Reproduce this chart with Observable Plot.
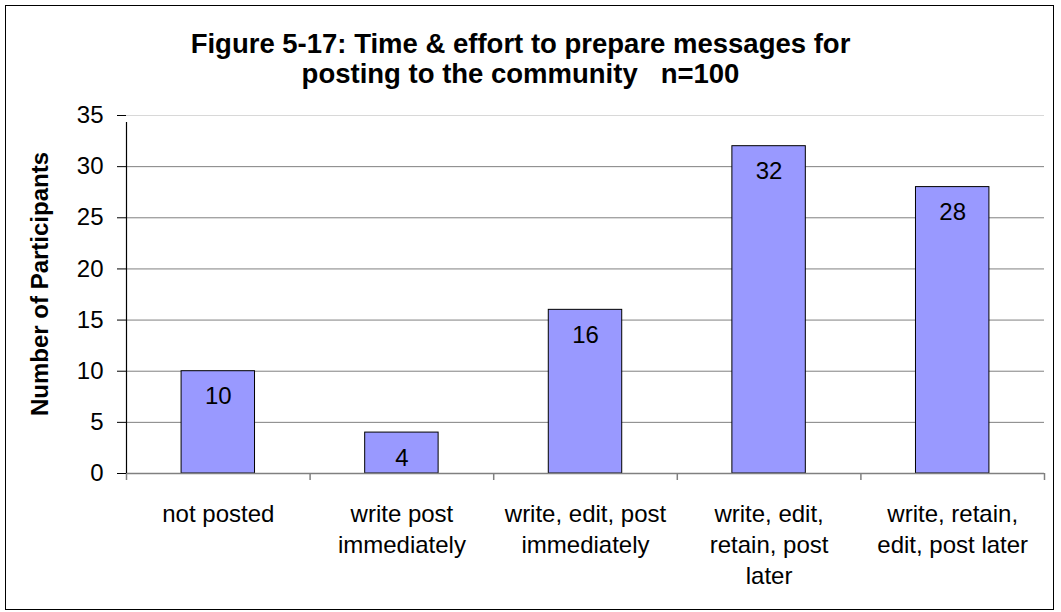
<!DOCTYPE html>
<html>
<head>
<meta charset="utf-8">
<script src="https://cdn.jsdelivr.net/npm/d3@7"></script>
<script src="https://cdn.jsdelivr.net/npm/@observablehq/plot@0.6"></script>
<style>
  html, body { margin: 0; padding: 0; background: #fff; }
  #chart { position: relative; width: 1061px; height: 612px; font-family: "Liberation Sans", Arial, sans-serif; }
  #frame { position: absolute; left: 5px; top: 5px; width: 1047px; height: 603px; border: 1.5px solid #000; pointer-events: none; }
  #title { position: absolute; left: 0; top: 29px; width: 1041px; text-align: center; font-weight: bold; font-size: 27.5px; line-height: 30px; color: #000; white-space: pre; }
  #ylabel { position: absolute; left: 40px; top: 284px; width: 0; height: 0; }
  #ylabel span { position: absolute; left: 0; top: 0; transform: translate(-50%, -50%) rotate(-90deg); white-space: nowrap; font-weight: bold; font-size: 24px; color: #000; }
  #plot { position: absolute; left: 0; top: 95px; }
</style>
</head>
<body>
<div id="chart">
  <div id="title"></div>
  <div id="plot"></div>
  <div id="ylabel"><span></span></div>
  <div id="frame"></div>
</div>
<script>
// Responses: how participants prepared messages before posting
const titleLines = [
  "Figure 5-17: Time & effort to prepare messages for",
  "posting to the community   n=100"
];
const categories = [
  "not posted",
  "write post\nimmediately",
  "write, edit, post\nimmediately",
  "write, edit,\nretain, post\nlater",
  "write, retain,\nedit, post later"
];
const counts = [10, 4, 16, 32, 28];
const yTicks = [0, 5, 10, 15, 20, 25, 30, 35];
const yLabel = "Number of Participants";

document.getElementById("title").textContent = titleLines.join("\n");
document.querySelector("#ylabel span").textContent = yLabel;

// One row per category; the x scale counts categories 0..n
const rows = categories.map((name, i) => ({ i, name, count: counts[i] }));
const slots = d3.range(categories.length + 1);

const plot = Plot.plot({
  width: 1061,
  height: 517,
  marginTop: 20,
  marginBottom: 139,
  marginLeft: 126,
  marginRight: 17,
  style: { fontFamily: "Liberation Sans, Arial, sans-serif", fontSize: "24px", color: "#000", background: "transparent", overflow: "visible" },
  x: { type: "linear", domain: [0, categories.length], axis: null },
  y: { type: "linear", domain: [0, 35], axis: null, label: null },
  marks: [
    // horizontal gridlines
    Plot.ruleY(yTicks.filter(t => t > 0 && t < 35), { stroke: "#808080", strokeWidth: 1, strokeOpacity: 1 }),
    Plot.ruleY([35], { stroke: "#d8d8d8", strokeWidth: 1 }),
    // bars
    Plot.rectY(rows, {
      x1: d => d.i + 0.3,
      x2: d => d.i + 0.7,
      y1: 0,
      y2: "count",
      fill: "#9999ff",
      stroke: "#000",
      strokeWidth: 1
    }),
    // value labels inside bar tops
    Plot.text(rows, {
      x: d => d.i + 0.5,
      y: "count",
      text: d => String(d.count),
      lineAnchor: "top",
      dy: 16,
      fontSize: 24,
      fill: "#000"
    }),
    // baseline and category boundary ticks
    Plot.ruleY([0], { stroke: "#808080", strokeWidth: 1.5 }),
    Plot.axisX({ ticks: slots, tickFormat: () => "", tickSize: 7, stroke: "#808080", strokeWidth: 1.5, anchor: "bottom", label: null }),
    // y axis line and ticks
    Plot.ruleX([0], { y1: 0, y2: 35, stroke: "#000", strokeWidth: 1.2, insetBottom: -7 }),
    Plot.axisY({ ticks: yTicks, tickSize: 9, tickPadding: 14, fontSize: 24, stroke: "#000", label: null }),
    // category labels
    Plot.text(rows, {
      x: d => d.i + 0.5,
      y: 0,
      text: "name",
      lineAnchor: "top",
      dy: 27,
      lineHeight: 1.29,
      fontSize: 24,
      fill: "#000"
    })
  ]
});

document.getElementById("plot").appendChild(plot);
</script>
</body>
</html>
